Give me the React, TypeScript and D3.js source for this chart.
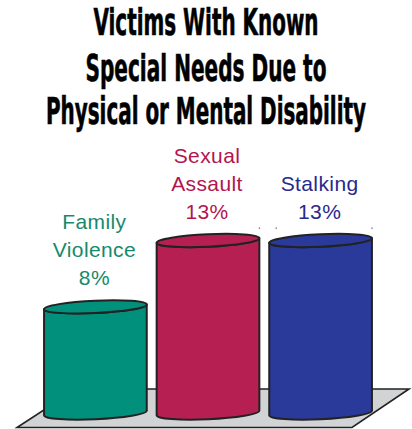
import React, { useLayoutEffect, useRef, useState } from "react";
import * as d3 from "d3";

const titleLines = ["Victims With Known", "Special Needs Due to", "Physical or Mental Disability"];
const titleWidths = [225, 241, 320];
const categories = ["Family Violence", "Sexual Assault", "Stalking"];
const labelLines = [["Family", "Violence"], ["Sexual", "Assault"], ["Stalking"]];
const values = [8, 13, 13];
const fills = ["#00907c", "#b51f51", "#2a3a9a"];
const textColors = ["#16896c", "#b3154f", "#28298b"];

const W = 412;
const H = 429;

export default function App() {
  const titleRefs = useRef<(SVGTextElement | null)[]>([]);
  const [scales, setScales] = useState<number[]>([0.75, 0.75, 0.75]);

  useLayoutEffect(() => {
    const s = titleLines.map((_, i) => {
      const el = titleRefs.current[i];
      if (!el) return 0.75;
      const w = el.getComputedTextLength();
      return w > 0 ? titleWidths[i] / w : 0.75;
    });
    setScales(s);
  }, []);

  const x = d3.scaleBand<string>().domain(categories).range([44, 372]).paddingInner(0.087).paddingOuter(0);
  const y = d3.scaleLinear().domain([0, 13]).range([413, 240.5]);
  const rx = x.bandwidth() / 2;
  const ry = 6.2;
  const ang = -2.6;
  const rad = (ang * Math.PI) / 180;
  const dx = rx * Math.cos(rad);
  const dy = rx * Math.sin(rad);
  const titleBase = [35, 80.5, 124];

  const floor = [
    [76, 389],
    [409, 389],
    [352, 427.5],
    [17, 427.5],
  ];

  return (
    <svg width={W} height={H} style={{ position: "absolute", left: 0, top: 0, display: "block" }}>
      <rect width={W} height={H} fill="#fff" />
      {titleLines.map((t, i) => (
        <g key={t} transform={`translate(${W / 2},${titleBase[i]}) scale(${scales[i]},1)`}>
          <text
            ref={(el) => {
              titleRefs.current[i] = el;
            }}
            x={0}
            y={0}
            textAnchor="middle"
            fontFamily="'DejaVu Sans Condensed', 'DejaVu Sans', sans-serif"
            fontWeight="bold"
            fontSize={37}
            stroke="#000"
            strokeWidth={0.6}
            fill="#000"
          >
            {t}
          </text>
        </g>
      ))}
      <polygon points={floor.map((p) => p.join(",")).join(" ")} fill="#d2d3d5" stroke="#222" strokeWidth={1.6} strokeLinejoin="miter" />
      {categories.map((c, i) => {
        const cx = (x(c) as number) + rx;
        const yt = y(values[i]);
        const yb = y(0);
        const Lt = [cx - dx, yt - dy];
        const Rt = [cx + dx, yt + dy];
        const Lb = [cx - dx, yb - dy];
        const Rb = [cx + dx, yb + dy];
        const body = `M${Lt[0]},${Lt[1]} L${Lb[0]},${Lb[1]} A${rx},${ry} ${ang} 0 0 ${Rb[0]},${Rb[1]} L${Rt[0]},${Rt[1]} A${rx},${ry} ${ang} 0 1 ${Lt[0]},${Lt[1]} Z`;
        const lines = [...labelLines[i], `${values[i]}%`];
        const lastBase = yt - 22;
        return (
          <g key={c}>
            <path d={body} fill={fills[i]} stroke="#222" strokeWidth={2} strokeLinejoin="round" />
            <ellipse cx={cx} cy={yt} rx={rx} ry={ry} transform={`rotate(${ang} ${cx} ${yt})`} fill={fills[i]} stroke="#222" strokeWidth={2} />
            {lines.map((l, j) => (
              <text
                key={j}
                x={cx - 1}
                y={lastBase - (lines.length - 1 - j) * 28}
                textAnchor="middle"
                fontFamily="'Liberation Sans', Arial, sans-serif"
                fontSize={21}
                letterSpacing={0.4}
                fill={textColors[i]}
              >
                {l}
              </text>
            ))}
          </g>
        );
      })}
      {[x(categories[1])! + x.bandwidth(), x(categories[2])! + 7, x(categories[2])! + x.bandwidth()].map((px, k) => (
        <rect key={k} x={px - 0.6} y={y(13) - 13} width={1.3} height={1.3} fill="#666" />
      ))}
    </svg>
  );
}
